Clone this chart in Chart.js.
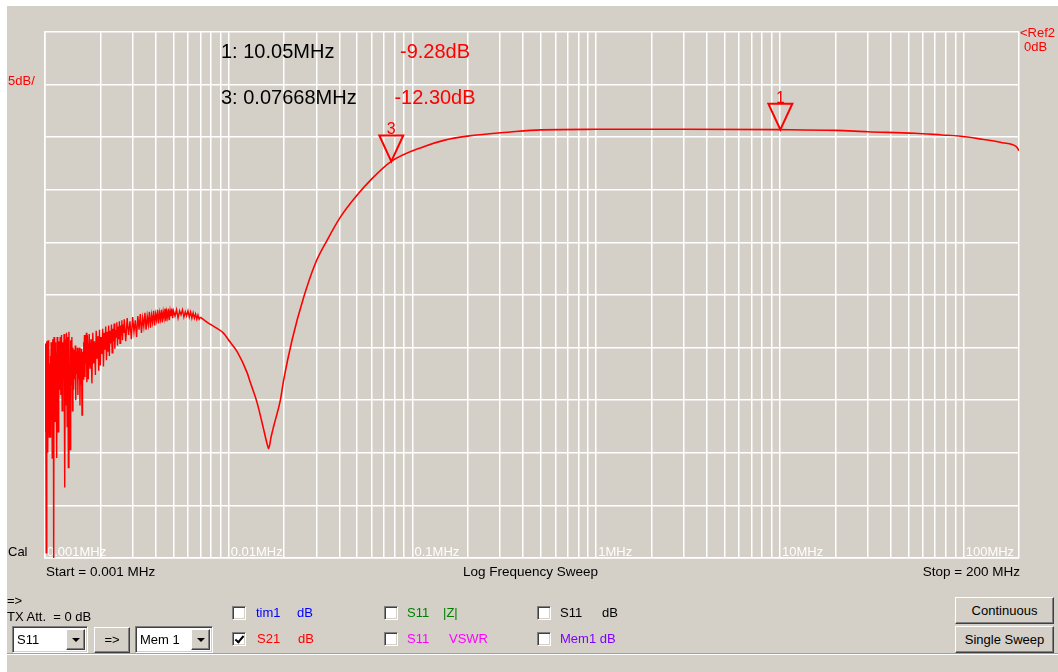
<!DOCTYPE html>
<html>
<head>
<meta charset="utf-8">
<title>S21 Log Frequency Sweep</title>
<script src="https://cdn.jsdelivr.net/npm/chart.js@4.4.0/dist/chart.umd.min.js"></script>
<style>
  body { margin: 0; width: 1058px; height: 672px; overflow: hidden; background: #fff;
         font-family: "Liberation Sans", Arial, sans-serif; font-size: 13px; }
  #win { position: absolute; left: 7px; top: 6px; width: 1051px; height: 666px; background: #d4d0c8; }
  #vna { position: absolute; left: 0; top: 0; }
  .t { position: absolute; line-height: 13px; white-space: pre; }
  .red { color: #ff0000; }
  .sunk { position: absolute; background: #fff; box-sizing: border-box; border: 1px solid;
          border-color: #808080 #fff #fff #808080; box-shadow: inset 1px 1px #404040, inset -1px -1px #d4d0c8; }
  .raised { position: absolute; background: #d4d0c8; box-sizing: border-box; border: 1px solid;
            border-color: #fff #404040 #404040 #fff; box-shadow: inset -1px -1px #808080; text-align: center; }
  .arrow { position: absolute; left: 50%; top: 50%; margin: -2px 0 0 -4px; width: 0; height: 0;
           border-left: 4px solid transparent; border-right: 4px solid transparent; border-top: 4px solid #000; }
  .cb { width: 14px; height: 14px; }
  .tick { position: absolute; left: 4px; top: 1px; width: 3px; height: 7px; border: solid #000;
          border-width: 0 2px 2px 0; transform: rotate(40deg); }
  #status { position: absolute; left: 7px; top: 653px; width: 1051px; height: 19px;
            border-top: 1px solid #a0a0a0; box-shadow: inset 0 1px #fff; }
</style>
</head>
<body>
<div id="win"></div>
<canvas id="vna" width="1058" height="580"></canvas>

<div class="t red" style="left:8px;top:74px">5dB/</div>
<div class="t red" style="left:1020px;top:26px">&lt;Ref2</div>
<div class="t red" style="left:1024px;top:40px">0dB</div>
<div class="t" style="left:8px;top:545px">Cal</div>
<div class="t" style="left:46px;top:565px;font-size:13.5px">Start = 0.001 MHz</div>
<div class="t" style="left:463px;top:565px;font-size:13.5px">Log Frequency Sweep</div>
<div class="t" style="right:38px;top:565px;font-size:13.5px">Stop = 200 MHz</div>

<div class="t" style="left:7px;top:594px">=&gt;</div>
<div class="t" style="left:7px;top:610px">TX Att.  = 0 dB</div>

<div class="sunk" style="left:12px;top:626px;width:76px;height:27px">
  <div class="t" style="left:4px;top:6px">S11</div>
  <div class="raised" style="right:2px;top:2px;width:19px;height:21px"><div class="arrow"></div></div>
</div>
<div class="raised" style="left:94px;top:627px;width:36px;height:26px;line-height:24px">=&gt;</div>
<div class="sunk" style="left:135px;top:626px;width:78px;height:27px">
  <div class="t" style="left:4px;top:6px">Mem 1</div>
  <div class="raised" style="right:2px;top:2px;width:19px;height:21px"><div class="arrow"></div></div>
</div>

<div class="sunk cb" style="left:232px;top:606px"></div>
<div class="t" style="left:256px;top:606px;color:#0000ff">tim1</div>
<div class="t" style="left:297px;top:606px;color:#0000ff">dB</div>
<div class="sunk cb" style="left:232px;top:632px"><div class="tick"></div></div>
<div class="t red" style="left:257px;top:632px">S21</div>
<div class="t red" style="left:298px;top:632px">dB</div>

<div class="sunk cb" style="left:384px;top:606px"></div>
<div class="t" style="left:407px;top:606px;color:#008000">S11</div>
<div class="t" style="left:443px;top:606px;color:#008000">|Z|</div>
<div class="sunk cb" style="left:384px;top:632px"></div>
<div class="t" style="left:407px;top:632px;color:#ff00ff">S11</div>
<div class="t" style="left:449px;top:632px;color:#ff00ff">VSWR</div>

<div class="sunk cb" style="left:537px;top:606px"></div>
<div class="t" style="left:560px;top:606px">S11</div>
<div class="t" style="left:602px;top:606px">dB</div>
<div class="sunk cb" style="left:537px;top:632px"></div>
<div class="t" style="left:560px;top:632px;color:#8000ff">Mem1 dB</div>

<div class="raised" style="left:955px;top:597px;width:99px;height:27px;line-height:25px">Continuous</div>
<div class="raised" style="left:955px;top:626px;width:99px;height:27px;line-height:25px">Single Sweep</div>
<div id="status"></div>

<script>
// noisy low-frequency part of the S21 trace (frequencies in kHz, values in dB)
const noiseKHz = [
  1.000, 1.005, 1.010, 1.015, 1.020, 1.025, 1.030, 1.035, 1.040, 1.045,
  1.050, 1.055, 1.060, 1.065, 1.070, 1.075, 1.080, 1.085, 1.090, 1.095,
  1.100, 1.105, 1.110, 1.115, 1.120, 1.125, 1.130, 1.135, 1.140, 1.145,
  1.150, 1.155, 1.160, 1.165, 1.170, 1.175, 1.180, 1.185, 1.190, 1.195,
  1.200,
  1.21, 1.22, 1.23, 1.24, 1.25, 1.26, 1.27, 1.28, 1.29, 1.30,
  1.31, 1.32, 1.33, 1.34, 1.35, 1.36, 1.37, 1.38, 1.39, 1.40,
  1.41, 1.42, 1.43, 1.44, 1.45, 1.46, 1.47, 1.48, 1.49, 1.50,
  1.51, 1.52, 1.53, 1.54, 1.55, 1.56, 1.57, 1.58, 1.59, 1.60,
  1.61, 1.62, 1.63, 1.64, 1.65, 1.66, 1.67, 1.68, 1.69, 1.70,
  1.72, 1.74, 1.76, 1.78, 1.80, 1.82, 1.84, 1.86, 1.88, 1.90,
  1.92, 1.94, 1.96, 1.98, 2.00, 2.02, 2.04, 2.06, 2.08, 2.10,
  2.12, 2.14, 2.16, 2.18, 2.20, 2.22, 2.24, 2.26, 2.28, 2.30,
  2.32, 2.34, 2.36, 2.38, 2.40, 2.42, 2.44, 2.46, 2.48, 2.50,
  2.52, 2.54, 2.56, 2.58, 2.60, 2.62, 2.64, 2.66, 2.68, 2.70,
  2.75, 2.80, 2.85, 2.90, 2.95, 3.00, 3.05, 3.10, 3.15, 3.20,
  3.25, 3.30, 3.35, 3.40, 3.45, 3.50, 3.55, 3.60, 3.65, 3.70,
  3.75, 3.80, 3.85, 3.90, 3.95, 4.00, 4.05, 4.10, 4.15, 4.20,
  4.25, 4.30, 4.35, 4.40, 4.45, 4.50, 4.55, 4.60, 4.65, 4.70,
  4.75, 4.80, 4.85, 4.90, 4.95, 5.00,
  5.1, 5.2, 5.3, 5.4, 5.5, 5.6, 5.7, 5.8, 5.9, 6.0,
  6.1, 6.2, 6.3, 6.4, 6.5, 6.6, 6.7, 6.8, 6.9, 7.0
];
const noiseDb = [
  -29.6, -38.0, -30.2, -49.5, -29.4, -36.0, -31.0, -40.0, -29.3, -34.5,
  -30.0, -38.5, -31.5, -38.5, -30.8, -37.0, -29.5, -35.5, -31.0, -40.5,
  -29.2, -33.5, -30.0, -52.0, -29.0, -35.0, -31.5, -37.0, -29.5, -34.0,
  -30.5, -36.5, -40.5, -29.0, -33.0, -30.0, -38.0, -29.4, -35.0, -30.5,
  -34.0,
  -29.0, -34.5, -28.8, -36.0, -29.5, -33.0, -28.7, -43.3, -29.2, -35.5,
  -28.6, -37.5, -29.0, -41.4, -28.5, -34.0, -39.7, -29.3, -33.5, -29.0,
  -36.0, -30.0, -34.0, -30.2, -33.0, -29.8, -35.0, -30.4, -32.5, -30.0,
  -34.5, -30.3, -33.0, -30.0, -35.5, -30.5, -33.5, -30.1, -36.4, -30.4,
  -33.0, -29.5, -32.0, -28.8, -32.8, -29.0, -31.5, -28.6, -33.3, -28.8,
  -33.0, -28.7, -32.0, -29.2, -33.4, -28.6, -31.5, -29.4, -32.6, -28.4,
  -31.0, -28.9, -32.2, -28.3, -31.7, -29.0, -30.6, -28.2, -31.8, -28.6,
  -30.2, -28.0, -31.2, -28.5, -30.4, -27.9, -30.8, -28.4, -29.6, -27.8,
  -30.5, -28.2, -29.4, -27.7, -30.1, -28.3, -29.0, -27.6, -29.8, -28.0,
  -29.2, -27.5, -29.6, -27.9, -28.8, -27.4, -29.3, -27.8, -28.6, -27.3,
  -29.4, -27.2, -28.8, -27.5, -29.2, -27.1, -28.5, -27.4, -29.0, -27.0,
  -28.3, -26.8, -28.6, -27.2, -28.0, -26.7, -28.3, -27.0, -27.8, -26.6,
  -28.1, -26.9, -27.6, -26.5, -27.9, -26.8, -27.4, -26.4, -27.7, -26.7,
  -27.3, -26.4, -27.6, -26.6, -27.2, -26.3, -27.5, -26.6, -27.1, -26.3,
  -27.4, -26.5, -27.0, -26.3, -27.2, -26.5,
  -27.0, -26.4, -27.2, -26.5, -26.9, -26.4, -27.1, -26.6, -27.0, -26.5,
  -27.1, -26.6, -27.2, -26.7, -27.2, -26.8, -27.3, -26.9, -27.3, -27.1
];

// smooth part of the trace (MHz, dB)
const traceFreqs = [
  0.0070, 0.00764, 0.0085, 0.00933, 0.0102, 0.01113, 0.0126, 0.0131, 0.0143, 0.0155,
  0.0162, 0.0165, 0.0170, 0.01755, 0.0191, 0.0199, 0.0221, 0.0256, 0.0296, 0.0343,
  0.0405, 0.0500, 0.0590, 0.07668, 0.115, 0.148, 0.199, 0.342, 0.5, 1.0,
  3.0, 10.05, 20, 30.1, 54.3, 76.2, 94.0, 126.2, 162.1, 193.3,
  200
];
const traceDb = [
  -27.1, -27.6, -28.1, -28.6, -29.5, -30.4, -32.4, -33.3, -35.3, -37.8,
  -39.2, -39.6, -38.5, -37.5, -35.0, -33.1, -29.3, -25.2, -22.0, -19.8,
  -17.6, -15.5, -14.1, -12.3, -10.9, -10.3, -9.9, -9.5, -9.3, -9.25,
  -9.24, -9.28, -9.35, -9.48, -9.63, -9.79, -9.89, -10.2, -10.52, -10.9,
  -11.28
];

const decadeFreqs = [0.001, 0.01, 0.1, 1, 10, 100];
const decadeLabels = ['0.001MHz', '0.01MHz', '0.1MHz', '1MHz', '10MHz', '100MHz'];

const markerNames = ['1', '3'];
const markerFreqs = [10.05, 0.07668];
const markerDb = [-9.28, -12.30];

const startFreq = 0.001;
const stopFreq = 200;
const refDb = 0;
const dbPerDiv = 5;
const divisions = 10;

function toPoints(xs, ys, unit) {
  return xs.map((x, i) => ({ x: x * unit, y: ys[i] }));
}

const FONT = '"Liberation Sans", Arial, sans-serif';
Chart.defaults.font.family = FONT;

// decade labels sit inside the plot, under the trace
const tickLabelPlugin = {
  id: 'tickLabels',
  beforeDatasetsDraw(chart) {
    const ctx = chart.ctx;
    const x = chart.scales.x;
    ctx.save();
    ctx.fillStyle = '#ffffff';
    ctx.font = '13px ' + FONT;
    ctx.textAlign = 'left';
    ctx.textBaseline = 'alphabetic';
    decadeFreqs.forEach((d, i) => {
      ctx.fillText(decadeLabels[i], x.getPixelForValue(d) + 2, chart.chartArea.bottom - 2);
    });
    ctx.restore();
  }
};

// marker triangles and the readout at the top of the plot
const markerPlugin = {
  id: 'markers',
  afterDatasetsDraw(chart) {
    const ctx = chart.ctx;
    const x = chart.scales.x;
    const y = chart.scales.y;
    ctx.save();
    ctx.strokeStyle = '#ff0000';
    ctx.fillStyle = '#ff0000';
    ctx.lineWidth = 2;
    ctx.font = '16px ' + FONT;
    ctx.textAlign = 'center';
    ctx.textBaseline = 'alphabetic';
    markerFreqs.forEach((f, i) => {
      const px = x.getPixelForValue(f);
      const py = y.getPixelForValue(markerDb[i]);
      ctx.beginPath();
      ctx.moveTo(px - 12, py - 26);
      ctx.lineTo(px + 12, py - 26);
      ctx.lineTo(px, py);
      ctx.closePath();
      ctx.stroke();
      ctx.fillText(markerNames[i], px, py - 27);
    });

    ctx.font = '20px ' + FONT;
    markerFreqs.forEach((f, i) => {
      const base = 58 + i * 46;
      ctx.textAlign = 'left';
      ctx.fillStyle = '#000';
      ctx.fillText(markerNames[i] + ': ' + f + 'MHz', 221, base);
      ctx.textAlign = 'center';
      ctx.fillStyle = '#ff0000';
      ctx.fillText(markerDb[i].toFixed(2) + 'dB', 435, base);
    });
    ctx.restore();
  }
};

new Chart(document.getElementById('vna'), {
  type: 'line',
  data: {
    datasets: [
      {
        data: toPoints(noiseKHz, noiseDb, 0.001),
        borderColor: '#ff0000',
        borderWidth: 1.4,
        pointRadius: 0,
        tension: 0
      },
      {
        data: toPoints(traceFreqs, traceDb, 1),
        borderColor: '#ff0000',
        borderWidth: 1.6,
        pointRadius: 0,
        cubicInterpolationMode: 'monotone'
      }
    ]
  },
  options: {
    responsive: false,
    animation: false,
    events: [],
    layout: { padding: { left: 45, right: 39, top: 32, bottom: 22 } },
    plugins: { legend: { display: false }, tooltip: { enabled: false } },
    scales: {
      x: {
        type: 'logarithmic',
        min: startFreq,
        max: stopFreq,
        afterBuildTicks(scale) {
          const ticks = [];
          decadeFreqs.forEach(d => {
            for (let m = 1; m <= 9; m++) {
              if (d * m < stopFreq) ticks.push({ value: d * m });
            }
          });
          ticks.push({ value: stopFreq });
          scale.ticks = ticks;
        },
        afterFit(scale) { scale.height = 0; },
        grid: { color: '#ffffff', lineWidth: 1.5, drawTicks: false },
        border: { color: '#ffffff', width: 1.5 },
        ticks: { display: false, autoSkip: false }
      },
      y: {
        type: 'linear',
        min: refDb - dbPerDiv * divisions,
        max: refDb,
        afterFit(scale) { scale.width = 0; },
        grid: { color: '#ffffff', lineWidth: 1.5, drawTicks: false },
        border: { color: '#ffffff', width: 1.5 },
        ticks: { display: false, stepSize: dbPerDiv }
      }
    }
  },
  plugins: [tickLabelPlugin, markerPlugin]
});
</script>
</body>
</html>
